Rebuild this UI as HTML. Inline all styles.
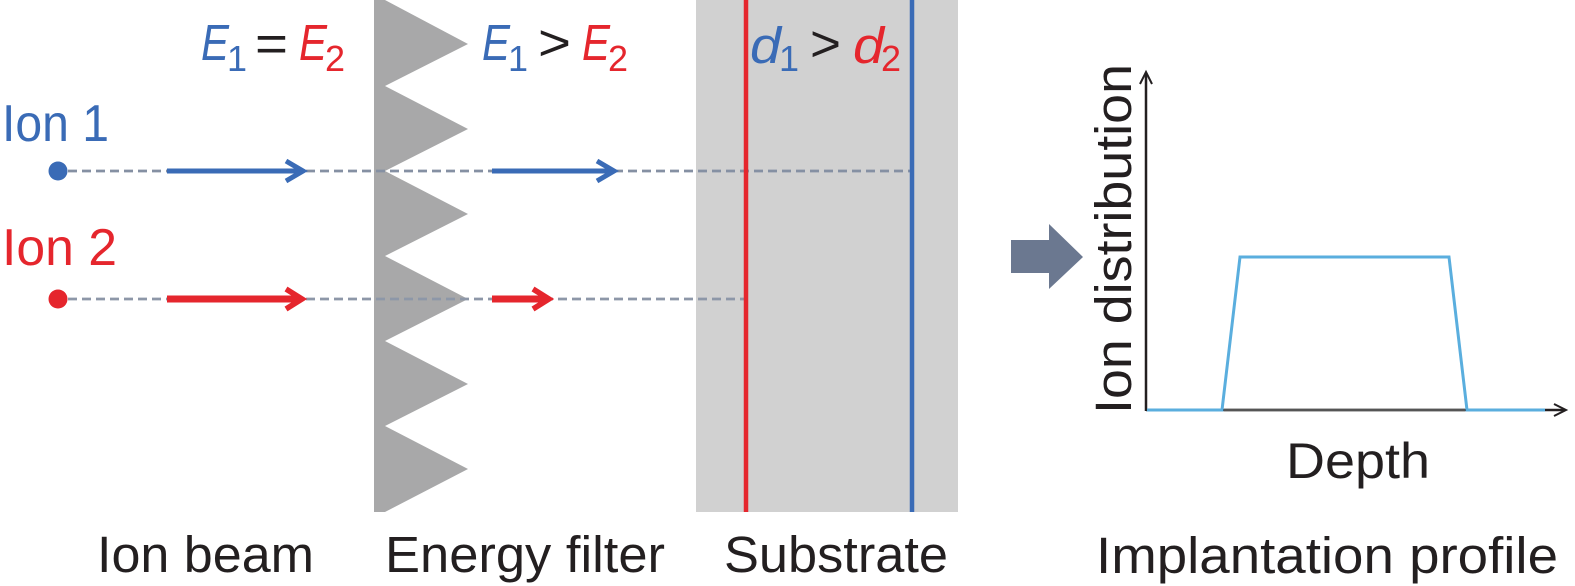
<!DOCTYPE html>
<html>
<head>
<meta charset="utf-8">
<style>
html,body{margin:0;padding:0;background:#fff;}
svg{display:block;}
text{font-family:"Liberation Sans",sans-serif;}
</style>
</head>
<body>
<svg width="1575" height="586" viewBox="0 0 1575 586" xmlns="http://www.w3.org/2000/svg">
  <!-- Substrate -->
  <rect x="696" y="0" width="262" height="512" fill="#d1d1d1"/>
  <!-- Energy filter -->
  <polygon fill="#a8a8a9" points="374,0 385,0 468,44 385,86 468,129 385,171 468,214 385,256 468,299 385,341 468,384 385,426 468,469 385,512 374,512"/>

  <!-- dashed beam lines -->
  <line x1="68" y1="171" x2="912" y2="171" stroke="#8590a3" stroke-width="2.8" stroke-dasharray="9 5"/>
  <line x1="68" y1="299" x2="746" y2="299" stroke="#8d97a8" stroke-width="2.8" stroke-dasharray="9 5"/>

  <!-- substrate depth lines -->
  <line x1="746" y1="0" x2="746" y2="512" stroke="#e5262d" stroke-width="4.5"/>
  <line x1="912" y1="0" x2="912" y2="512" stroke="#3a6bb6" stroke-width="4.5"/>

  <!-- dots -->
  <circle cx="58" cy="171" r="9.5" fill="#3a6bb6"/>
  <circle cx="58" cy="299" r="9.5" fill="#e5262d"/>

  <!-- blue arrows -->
  <g stroke="#3a6bb6" fill="none" stroke-width="5">
    <line x1="167" y1="171" x2="302" y2="171"/>
    <polyline points="286,161 303,171 286,181" stroke-linejoin="miter"/>
    <line x1="492" y1="171" x2="614" y2="171"/>
    <polyline points="597,161 614,171 597,181" stroke-linejoin="miter"/>
  </g>
  <!-- red arrows -->
  <g stroke="#e5262d" fill="none" stroke-width="7">
    <line x1="167" y1="299" x2="301" y2="299"/>
    <polyline points="286,289 302,299 286,309" stroke-width="5.5"/>
    <line x1="492" y1="299" x2="548" y2="299"/>
    <polyline points="533,289 549,299 533,309" stroke-width="5.5"/>
  </g>

  <!-- E1 = E2 -->
  <text x="201" y="60" font-size="51" font-style="italic" fill="#3a6bb6" textLength="28" lengthAdjust="spacingAndGlyphs">E</text>
  <text x="227" y="71" font-size="36" fill="#3a6bb6">1</text>
  <text x="255" y="61" font-size="51" fill="#231f20" textLength="33" lengthAdjust="spacingAndGlyphs">=</text>
  <text x="299" y="60" font-size="51" font-style="italic" fill="#e5262d" textLength="28" lengthAdjust="spacingAndGlyphs">E</text>
  <text x="325" y="71" font-size="36" fill="#e5262d">2</text>

  <!-- E1 > E2 -->
  <text x="482" y="60" font-size="51" font-style="italic" fill="#3a6bb6" textLength="28" lengthAdjust="spacingAndGlyphs">E</text>
  <text x="508" y="71" font-size="36" fill="#3a6bb6">1</text>
  <text x="538" y="60" font-size="51" fill="#231f20" textLength="33" lengthAdjust="spacingAndGlyphs">&gt;</text>
  <text x="582" y="60" font-size="51" font-style="italic" fill="#e5262d" textLength="28" lengthAdjust="spacingAndGlyphs">E</text>
  <text x="608" y="71" font-size="36" fill="#e5262d">2</text>

  <!-- d1 > d2 -->
  <text x="750" y="63" font-size="51" font-style="italic" fill="#3a6bb6" textLength="31" lengthAdjust="spacingAndGlyphs">d</text>
  <text x="779" y="71" font-size="36" fill="#3a6bb6">1</text>
  <text x="810" y="61" font-size="51" fill="#231f20" textLength="31" lengthAdjust="spacingAndGlyphs">&gt;</text>
  <text x="853" y="63" font-size="51" font-style="italic" fill="#e5262d" textLength="31" lengthAdjust="spacingAndGlyphs">d</text>
  <text x="881" y="71" font-size="36" fill="#e5262d">2</text>

  <!-- Ion labels -->
  <text x="2" y="141" font-size="52" fill="#3a6bb6" textLength="107" lengthAdjust="spacingAndGlyphs">Ion 1</text>
  <text x="2" y="265" font-size="52" fill="#e5262d" textLength="115" lengthAdjust="spacingAndGlyphs">Ion 2</text>

  <!-- bottom labels -->
  <text x="97" y="572" font-size="51" fill="#231f20" textLength="217" lengthAdjust="spacingAndGlyphs">Ion beam</text>
  <text x="385" y="572" font-size="51" fill="#231f20" textLength="280" lengthAdjust="spacingAndGlyphs">Energy filter</text>
  <text x="724" y="572" font-size="51" fill="#231f20" textLength="224" lengthAdjust="spacingAndGlyphs">Substrate</text>
  <text x="1096" y="573" font-size="51" fill="#231f20" textLength="462" lengthAdjust="spacingAndGlyphs">Implantation profile</text>

  <!-- big arrow -->
  <polygon fill="#6b7890" points="1011,240 1049,240 1049,224 1083,257 1049,289 1049,273 1011,273"/>

  <!-- graph axes -->
  <g stroke="#231f20" stroke-width="2.5" fill="none">
    <line x1="1146" y1="411" x2="1146" y2="73"/>
    <polyline points="1140,84 1146,72 1152,84" stroke-width="2"/>
    <line x1="1146" y1="410" x2="1565" y2="410"/>
    <polyline points="1554,404 1566,410 1554,416" stroke-width="2"/>
  </g>
  <!-- profile -->
  <polyline fill="none" stroke="#5aaede" stroke-width="3" stroke-linejoin="miter" points="1147,410 1222,410 1240,257 1449,257 1467,410 1545,410"/>
  <line x1="1224" y1="410" x2="1465" y2="410" stroke="#555" stroke-width="2.5"/>

  <!-- axis labels -->
  <text transform="translate(1131,414) rotate(-90)" x="0" y="0" font-size="51" fill="#231f20" textLength="350" lengthAdjust="spacingAndGlyphs">Ion distribution</text>
  <text x="1286" y="478" font-size="50" fill="#231f20" textLength="144" lengthAdjust="spacingAndGlyphs">Depth</text>
</svg>
</body>
</html>
